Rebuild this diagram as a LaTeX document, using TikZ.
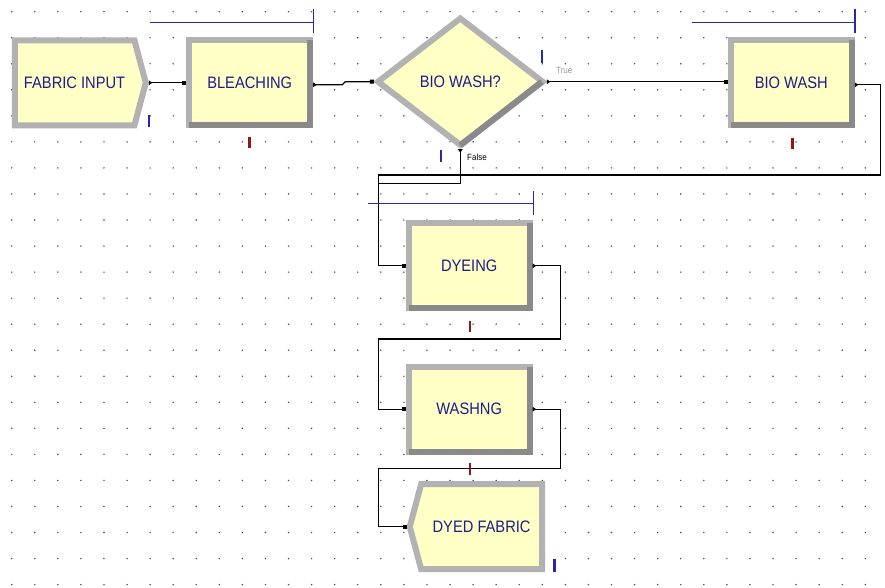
\documentclass[tikz,border=0pt]{standalone}
\usepackage{fontspec}
\setmainfont{Liberation Sans}
\newfontfamily\arenafont[FakeStretch=0.885]{Liberation Sans}
\usetikzlibrary{arrows.meta, positioning, shapes.geometric, shapes.symbols}

\definecolor{modfill}{RGB}{255,255,198}
\definecolor{bevlight}{RGB}{178,178,178}
\definecolor{bevdark}{RGB}{138,138,138}
\definecolor{labelblue}{RGB}{28,28,140}
\definecolor{queueblue}{RGB}{40,40,170}
\definecolor{resred}{RGB}{150,20,20}
\definecolor{griddot}{RGB}{70,70,70}

\begin{document}
\begin{tikzpicture}[
    x=1pt, y=-1pt,
    modtext/.style={text=labelblue, font=\arenafont\fontsize{16.6}{18}\selectfont},
    module/.style={
      rectangle, draw=bevlight, line width=6pt, fill=modfill, modtext,
      minimum width=121pt, minimum height=85pt, inner sep=0pt
    },
    endbox/.style={
      signal, draw=bevlight, line width=6pt, fill=modfill, modtext,
      signal pointer angle=150, minimum height=85pt, inner sep=0pt
    },
    decision/.style={
      diamond, draw=bevlight, line width=6pt, fill=modfill, modtext,
      minimum width=167pt, minimum height=129pt, inner sep=0pt
    },
    bevel/.style={draw=bevdark, line width=6pt},
    flow/.style={
      draw=black, line width=1.1pt,
      arrows={Triangle[reversed,length=3.5pt,width=4.5pt]-Square[length=4pt,width=4pt]}
    },
    qline/.style={draw=queueblue, line width=1.3pt},
    sbar/.style={draw=queueblue, line width=2.4pt},
    rbar/.style={draw=resred, line width=2.4pt},
    tag/.style={font=\arenafont\fontsize{9}{10}\selectfont, inner sep=0pt}
  ]
  \fill[white] (0,0) rectangle (885,588);
  \useasboundingbox (0,0) rectangle (885,588);

  % grid
  \foreach \i in {0,...,37}
    \foreach \j in {0,...,22}
      \fill[griddot] ({11.7+23.07*\i},{11.7+26.04*\j}) circle[radius=0.8pt];

  % modules
  \node[endbox, signal to=east, minimum width=131pt] (input) at (74.6,82.8) {FABRIC INPUT};
  \node[module] (bleach)  at (249.7,82.8)  {BLEACHING};
  \node[decision] (decide) at (460.3,81.7) {BIO WASH?};
  \node[module] (biowash) at (791.3,82.8)  {BIO WASH};
  \node[module] (dyeing)  at (469.2,265.8) {DYEING};
  \node[module] (washng)  at (469.2,409.2) {WASHNG};
  \node[endbox, signal to=west, minimum width=132.3pt] (dyed) at (481.6,526.7) {DYED FABRIC};

  \foreach \m in {bleach, biowash, dyeing, washng}
    \draw[bevel] ([shift={(-3pt,-3pt)}]\m.north east) -- ([shift={(-3pt,3pt)}]\m.south east)
      -- ([shift={(3pt,3pt)}]\m.south west);
  \draw[bevel] ([xshift=-4.9pt]decide.east) -- ([yshift=3.8pt]decide.south);

  % branch labels
  \node[tag, text=black!40, anchor=west] (truetag) at (556,70) {True};
  \node[tag, anchor=west] (falsetag) at (467,157.5) {False};

  % routing corners
  \coordinate (busleft)   at (378.3,175);
  \coordinate (falseleft) at (378.3,183.3);
  \coordinate (wrapA)     at (378.3,339);
  \coordinate (wrapB)     at (378.3,468.3);

  % connections
  \draw[flow] (input.east) -- (bleach.west);
  \draw[flow] ([yshift=-2pt]bleach.east) -- ++(29,0) -- ++(3,-3) -- (decide.west);
  \draw[flow] (decide.east) -- (decide.east -| biowash.west);
  \draw[flow] (decide.south) |- (falseleft) |- (dyeing.west);
  \draw[flow] ([yshift=-2pt]biowash.east) -- ++(26,0) |- (busleft) |- (dyeing.west);
  \draw[flow] (dyeing.east) -- ++(27.4,0) |- (wrapA) |- (washng.west);
  \draw[flow] (washng.east) -- ++(27.4,0) |- (wrapB) |- (dyed.west);

  % queues and indicators
  \draw[qline] (150,22.3) -- (313.3,22.3) (313.3,9.3) -- (313.3,33.3);
  \draw[qline] (691.7,22.7) -- (855,22.7) (855,9.3) -- (855,33.3);
  \draw[qline] (368.3,203.3) -- (533.3,203.3) (533.3,190.7) -- (533.3,215);
  \draw[sbar] (149,115) -- (149,127);
  \draw[sbar] (541.7,50) -- (541.7,63);
  \draw[sbar] (440.7,150) -- (440.7,161.7);
  \draw[sbar] (554.3,559) -- (554.3,571.7);
  \draw[rbar] (249.3,137) -- (249.3,148);
  \draw[rbar] (792.3,138) -- (792.3,149);
  \draw[rbar] (470,320.7) -- (470,332.3);
  \draw[rbar] (470,463) -- (470,475);
\end{tikzpicture}
\end{document}
